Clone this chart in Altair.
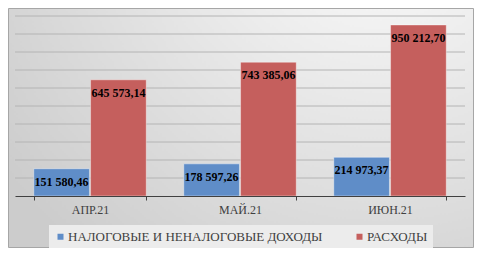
import altair as alt
import pandas as pd

months = ["АПР.21", "МАЙ.21", "ИЮН.21"]
series = ["НАЛОГОВЫЕ И НЕНАЛОГОВЫЕ ДОХОДЫ", "РАСХОДЫ"]
income = [151580.46, 178597.26, 214973.37]
expenses = [645573.14, 743385.06, 950212.70]
colors = ["#5f8dc8", "#c55f5d"]
grid_values = [100000, 200000, 300000, 400000, 500000, 600000, 700000, 800000, 900000, 1000000]


def fmt(v):
    return f"{v:,.2f}".replace(",", " ").replace(".", ",")


rows = []
for i, m in enumerate(months):
    rows.append(dict(month=m, series=series[0], value=income[i], label=fmt(income[i])))
    rows.append(dict(month=m, series=series[1], value=expenses[i], label=fmt(expenses[i])))
df = pd.DataFrame(rows)

W, H = 450, 180
PAD = {"left": 7, "top": 8, "right": 9, "bottom": 52}
SERIF = "Liberation Serif"

yscale = alt.Scale(domain=[0, 1000000], nice=False)

x = alt.X(
    "month:N",
    sort=months,
    scale=alt.Scale(paddingInner=0.25, paddingOuter=0.125),
    axis=alt.Axis(
        title=None, labelAngle=0, tickBand="extent", tickSize=4, labelPadding=4,
        labelFont=SERIF, labelFontSize=12, labelColor="#404040",
        domainColor="#404040", tickColor="#404040", zindex=1,
    ),
)
xo = alt.XOffset("series:N", sort=series, scale=alt.Scale(paddingInner=0.02))
y = alt.Y("value:Q", scale=yscale, axis=None)

bg = alt.Chart(pd.DataFrame({"a": [0]})).mark_rect(
    fill=alt.Gradient(
        gradient="radial",
        stops=[alt.GradientStop(offset=0, color="#ffffff"), alt.GradientStop(offset=1, color="#cccccc")],
        x1=0.8, y1=0, r1=0, x2=0.8, y2=0, r2=1.0,
    ),
    stroke="#a6a6a6", strokeWidth=1,
).encode(
    x=alt.value(-PAD["left"] + 0.5), x2=alt.value(W + PAD["right"] - 0.5),
    y=alt.value(-PAD["top"] + 0.5), y2=alt.value(H + PAD["bottom"] - 0.5),
)

grid = alt.Chart(pd.DataFrame({"g": grid_values})).mark_rule(
    color="#b4b4b4", strokeWidth=1
).encode(y=alt.Y("g:Q", scale=yscale, axis=None))

bars = alt.Chart(df).mark_bar(stroke="#ffffff", strokeWidth=0.8, strokeOpacity=0.5).encode(
    x=x, xOffset=xo, y=y,
    color=alt.Color(
        "series:N", sort=series,
        scale=alt.Scale(domain=series, range=colors),
        legend=alt.Legend(
            orient="none", legendX=34, legendY=209, direction="horizontal", title=None,
            symbolType="square", symbolSize=36, symbolStrokeWidth=0,
            labelFont=SERIF, labelFontSize=13, labelColor="#404040",
            labelLimit=0, labelOffset=1, columnPadding=30, fillColor="#ececec", padding=5,
        ),
    ),
)

labels = alt.Chart(df).mark_text(
    baseline="middle", dy=13, font=SERIF, fontSize=12, fontWeight="bold", color="#000000"
).encode(x=x, xOffset=xo, y=y, text="label:N")

chart = alt.layer(bg, grid, bars, labels).properties(
    width=W, height=H, padding=PAD, autosize=alt.AutoSizeParams(type="none")
).configure(font=SERIF).configure_view(stroke=None).configure_legend(labelFont=SERIF)

chart.save("out.html", embed_options={"renderer": "svg", "actions": False})
